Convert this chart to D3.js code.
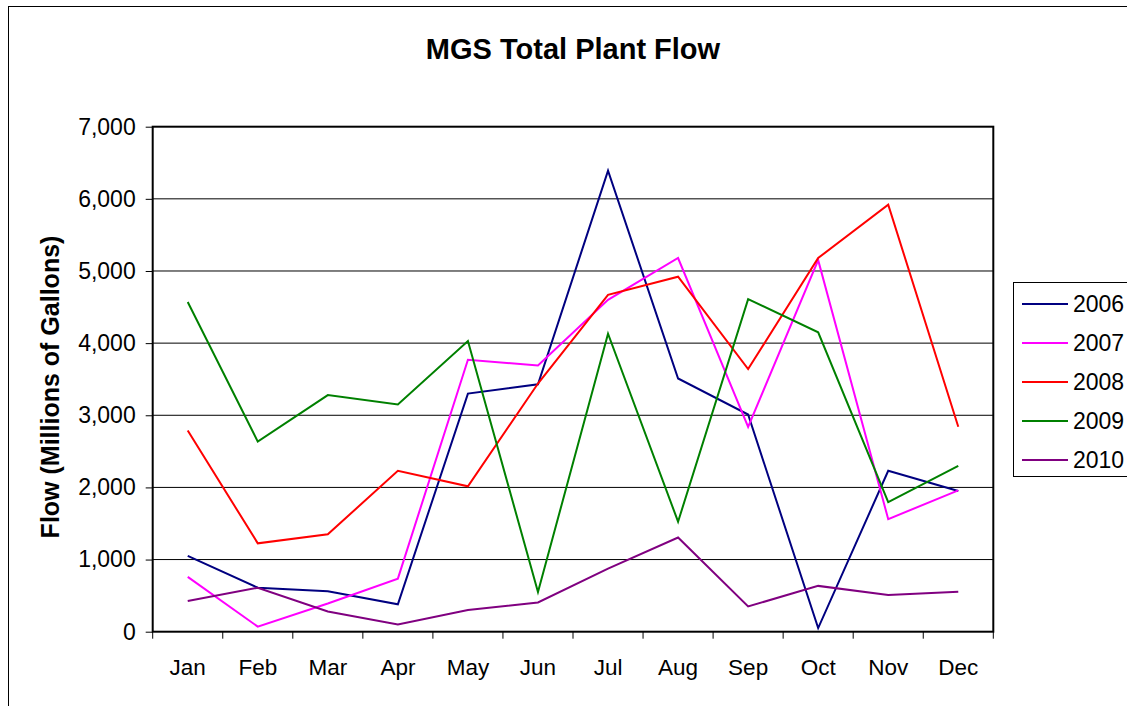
<!DOCTYPE html>
<html>
<head>
<meta charset="utf-8">
<script src="https://cdn.jsdelivr.net/npm/d3@7"></script>
<style>
  html, body { margin: 0; padding: 0; background: #fff; }
  svg { display: block; font-family: "Liberation Sans", Arial, sans-serif; }
</style>
</head>
<body>
<div id="chart"></div>
<script>
// Datos
const months = ["Jan", "Feb", "Mar", "Apr", "May", "Jun", "Jul", "Aug", "Sep", "Oct", "Nov", "Dec"];
const years = ["2006", "2007", "2008", "2009", "2010"];
const flow2006 = [1050, 610, 560, 380, 3300, 3430, 6390, 3510, 3010, 50, 2230, 1950];
const flow2007 = [760, 70, 390, 735, 3770, 3690, 4600, 5180, 2840, 5150, 1560, 1960];
const flow2008 = [2790, 1225, 1350, 2230, 2015, 3440, 4670, 4920, 3640, 5180, 5920, 2840];
const flow2009 = [4570, 2635, 3280, 3150, 4030, 550, 4130, 1525, 4610, 4150, 1795, 2300];
const flow2010 = [425, 610, 280, 100, 300, 405, 875, 1305, 350, 635, 510, 555];
const yTicks = [0, 1000, 2000, 3000, 4000, 5000, 6000, 7000];
const colors = ["#000080", "#ff00ff", "#ff0000", "#008000", "#800080"];

const series = [flow2006, flow2007, flow2008, flow2009, flow2010];

const width = 1127, height = 706;
const plot = { left: 152.7, right: 993.3, top: 126.7, bottom: 631.7 };

const svg = d3.select("#chart").append("svg")
    .attr("width", width)
    .attr("height", height);

// Borde exterior del área del gráfico
svg.append("rect")
    .attr("x", 8.5).attr("y", 6.5)
    .attr("width", 1140).attr("height", 720)
    .attr("fill", "none").attr("stroke", "#000").attr("stroke-width", 1);

// Escalas
const x = d3.scaleBand().domain(months).range([plot.left, plot.right]).padding(0);
const y = d3.scaleLinear().domain([0, 7000]).range([plot.bottom, plot.top]);

// Líneas de cuadrícula
svg.append("g")
    .selectAll("line")
    .data(yTicks.filter(d => d > 0 && d < 7000))
    .join("line")
    .attr("x1", plot.left).attr("x2", plot.right)
    .attr("y1", d => y(d)).attr("y2", d => y(d))
    .attr("stroke", "#000").attr("stroke-width", 1);

// Eje Y
const yAxis = svg.append("g")
    .attr("transform", `translate(${plot.left},0)`)
    .call(d3.axisLeft(y).tickValues(yTicks).tickSize(7).tickPadding(10).tickFormat(d3.format(",")));
yAxis.select(".domain").remove();
yAxis.selectAll(".tick line").attr("stroke", "#000");
yAxis.selectAll(".tick text")
    .attr("fill", "#000")
    .style("font-size", "23px")
    .style("font-family", "'Liberation Sans', Arial, sans-serif");

// Eje X (marcas entre categorías)
const xAxis = svg.append("g")
    .attr("transform", `translate(0,${plot.bottom})`)
    .call(d3.axisBottom(x).tickSize(0).tickPadding(27));
xAxis.select(".domain").remove();
xAxis.selectAll(".tick text")
    .attr("fill", "#000")
    .style("font-size", "22.5px")
    .style("font-family", "'Liberation Sans', Arial, sans-serif");

svg.append("g")
    .selectAll("line")
    .data(months.concat(["end"]))
    .join("line")
    .attr("x1", (d, i) => plot.left + i * x.step())
    .attr("x2", (d, i) => plot.left + i * x.step())
    .attr("y1", plot.bottom).attr("y2", plot.bottom + 7)
    .attr("stroke", "#000").attr("stroke-width", 1);

// Marco del área de trazado
svg.append("rect")
    .attr("x", plot.left).attr("y", plot.top)
    .attr("width", plot.right - plot.left).attr("height", plot.bottom - plot.top)
    .attr("fill", "none").attr("stroke", "#000").attr("stroke-width", 2);

// Series
const line = d3.line()
    .x((d, i) => x(months[i]) + x.bandwidth() / 2)
    .y(d => y(d));

svg.append("g")
    .selectAll("path")
    .data(series)
    .join("path")
    .attr("d", d => line(d))
    .attr("fill", "none")
    .attr("stroke", (d, i) => colors[i])
    .attr("stroke-width", 2)
    .attr("stroke-linejoin", "miter");

// Título
svg.append("text")
    .attr("x", 573).attr("y", 59)
    .attr("text-anchor", "middle")
    .style("font-size", "29px")
    .style("font-weight", "bold")
    .text("MGS Total Plant Flow");

// Título del eje Y
svg.append("text")
    .attr("transform", "translate(59,387) rotate(-90)")
    .attr("text-anchor", "middle")
    .style("font-size", "25px")
    .style("font-weight", "bold")
    .text("Flow (Millions of Gallons)");

// Leyenda
const legend = svg.append("g");
legend.append("rect")
    .attr("x", 1013.5).attr("y", 282.5)
    .attr("width", 130).attr("height", 194)
    .attr("fill", "#fff").attr("stroke", "#000").attr("stroke-width", 1);

const item = legend.selectAll("g.item")
    .data(years)
    .join("g")
    .attr("class", "item")
    .attr("transform", (d, i) => `translate(0,${304 + i * 39})`);

item.append("line")
    .attr("x1", 1022).attr("x2", 1068)
    .attr("y1", 0).attr("y2", 0)
    .attr("stroke", (d, i) => colors[i])
    .attr("stroke-width", 2);

item.append("text")
    .attr("x", 1073).attr("y", 8)
    .style("font-size", "23px")
    .text(d => d);
</script>
</body>
</html>
